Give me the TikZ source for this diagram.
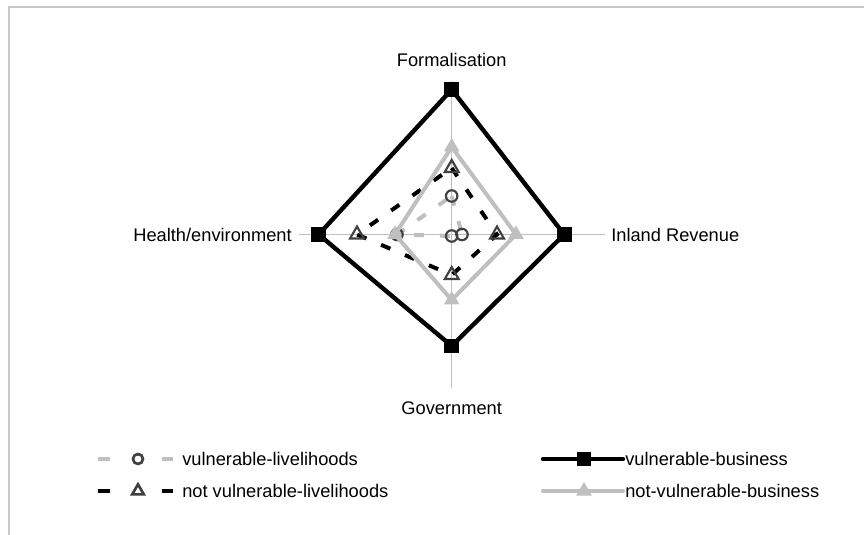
\documentclass[tikz,border=0pt]{standalone}
\usepackage{fontspec}
\setmainfont{Liberation Sans}
\usetikzlibrary{shapes.geometric}

\definecolor{seriesgray}{RGB}{191,191,191}
\definecolor{markgray}{RGB}{64,64,64}
\definecolor{framegray}{RGB}{200,200,200}

\tikzset{
  axisline/.style={draw=seriesgray, line width=0.75pt},
  vlline/.style={draw=seriesgray, line width=3pt, dash pattern=on 7.5pt off 12pt},
  nvlline/.style={draw=black, line width=3pt, dash pattern=on 7.5pt off 12pt},
  vbline/.style={draw=black, line width=3.3pt},
  nvbline/.style={draw=seriesgray, line width=3pt},
  circmark/.style={circle, draw=markgray, line width=1.6pt, minimum size=8.6pt, inner sep=0pt},
  trimark/.style={regular polygon, regular polygon sides=3, draw=markgray, line width=1.6pt, minimum size=12pt, inner sep=0pt},
  sqmark/.style={rectangle, fill=black, minimum size=11pt, inner sep=0pt},
  ftrimark/.style={regular polygon, regular polygon sides=3, fill=seriesgray, minimum size=13.5pt, inner sep=0pt},
  axislabel/.style={inner sep=0pt}
}

\begin{document}
\begin{tikzpicture}[x=0.75pt, y=0.75pt, font=\fontsize{13.7}{16}\selectfont]
\useasboundingbox (-451.7,-300.5) rectangle (412.3,234.5);
% frame
\draw[framegray, line width=1.5pt] (-442.2,-300.5) -- (-442.2,227.5) -- (412.3,227.5);

% axes
\coordinate (O) at (0,0);
\foreach \a/\n in {90/F, 0/IR, 270/G, 180/H}
  \coordinate (ax\n) at (\a:153);
\draw[axisline] (axH) -- (axIR);
\draw[axisline] (axF) -- (axG);

\node[axislabel] (lblF) at (0,174.5) {Formalisation};
\node[axislabel] (lblG) at (0,-173.5) {Government};
\node[axislabel, anchor=east] (lblH) at (-159.7,0) {Health/environment};
\node[axislabel, anchor=west] (lblIR) at (159.3,0) {Inland Revenue};

% data points
\foreach \s/\f/\i/\g/\h in {vl/38.5/10.3/1.5/54.7, nvl/66.5/45.3/40.5/94.7,
                            vb/145/112.5/111.5/133, nvb/87.5/64.3/65.5/56.7} {
  \coordinate (\s F) at (90:\f);
  \coordinate (\s IR) at (0:\i);
  \coordinate (\s G) at (270:\g);
  \coordinate (\s H) at (180:\h);
}

% series
\draw[vlline] (vlF) -- (vlIR) -- (vlG) -- (vlH) -- cycle;
\foreach \p in {F, IR, G, H}
  \node[circmark] (vlm\p) at (vl\p) {};

\draw[nvlline] (nvlF) -- (nvlIR) -- (nvlG) -- (nvlH) -- cycle;
\foreach \p in {F, IR, G, H}
  \node[trimark] (nvlm\p) at (nvl\p) {};

\draw[vbline] (vbF) -- (vbIR) -- (vbG) -- (vbH) -- cycle;
\foreach \p in {F, IR, G, H}
  \node[sqmark] (vbm\p) at (vb\p) {};

\draw[nvbline] (nvbF) -- (nvbIR) -- (nvbG) -- (nvbH) -- cycle;
\foreach \p in {F, IR, G, H}
  \node[ftrimark] (nvbm\p) at (nvb\p) {};

% legend
\coordinate (vlA) at (-353.7,-224.5);
\coordinate (vlB) at (-278.7,-224.5);
\draw[vlline, dash pattern=on 9pt off 39pt] (vlA) -- (vlB);
\node[circmark, line width=2pt, minimum size=7.5pt] (vlkey) at (-313.7,-224.5) {};
\node[axislabel, anchor=west] (vltxt) at (-269.7,-224.5) {vulnerable-livelihoods};

\coordinate (nvlA) at (-353.7,-256.5);
\coordinate (nvlB) at (-278.7,-256.5);
\draw[nvlline, dash pattern=on 9pt off 39pt] (nvlA) -- (nvlB);
\node[trimark, line width=2pt, minimum size=10pt] (nvlkey) at (-313.7,-256.5) {};
\node[axislabel, anchor=west] (nvltxt) at (-269.7,-256.5) {not vulnerable-livelihoods};

\coordinate (vbA) at (91.3,-224.5);
\coordinate (vbB) at (171.3,-224.5);
\draw[vbline, line cap=round] (vbA) -- (vbB);
\node[sqmark] (vbkey) at (132.3,-224.5) {};
\node[axislabel, anchor=west] (vbtxt) at (173.3,-224.5) {vulnerable-business};

\coordinate (nvbA) at (91.3,-256.5);
\coordinate (nvbB) at (171.3,-256.5);
\draw[nvbline, line cap=round] (nvbA) -- (nvbB);
\node[ftrimark] (nvbkey) at (132.3,-256.5) {};
\node[axislabel, anchor=west] (nvbtxt) at (173.3,-256.5) {not-vulnerable-business};
\end{tikzpicture}
\end{document}
